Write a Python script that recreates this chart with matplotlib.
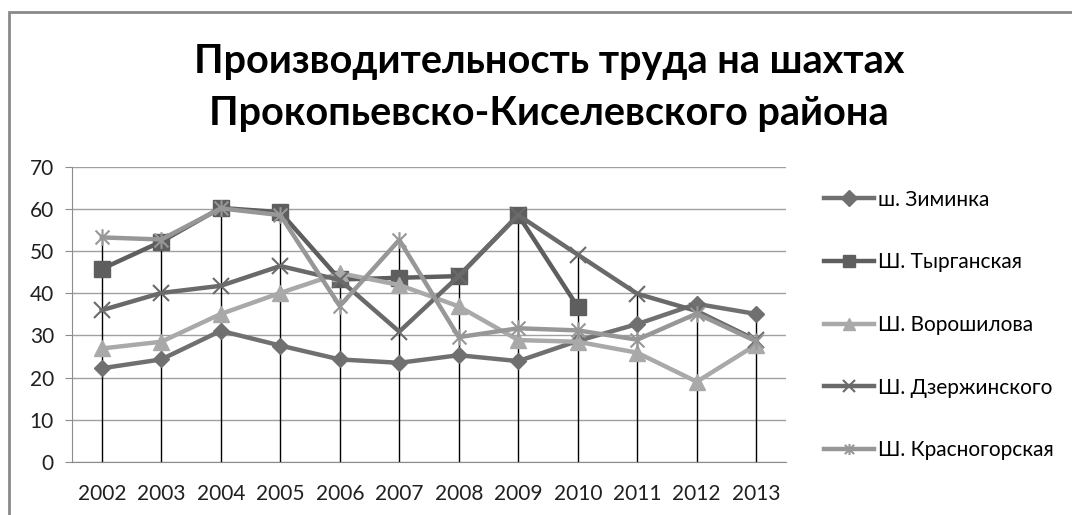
import numpy as np
import matplotlib.pyplot as plt
from matplotlib.path import Path
from matplotlib.patches import Rectangle

# Data

years = ['2002', '2003', '2004', '2005', '2006', '2007',
         '2008', '2009', '2010', '2011', '2012', '2013']

ziminka = [22.2, 24.3, 31.1, 27.6, 24.3, 23.5, 25.3, 23.9, 28.7, 32.7, 37.5, 35.1]
tyrganskaya = [45.8, 52.3, 60.3, 59.3, 43.3, 43.7, 44.1, 58.6, 36.8,
               np.nan, np.nan, np.nan]
voroshilova = [26.9, 28.5, 35.1, 40.1, 44.8, 42.0, 36.9, 28.9, 28.5, 25.9, 19.0, 27.8]
dzerzhinskogo = [36.0, 40.1, 41.8, 46.5, 43.2, 30.9, 44.1, 58.6, 49.2, 39.9, 35.8, 28.9]
krasnogorskaya = [53.3, 52.8, 60.2, 58.6, 37.0, 52.7, 29.6, 31.7, 31.2, 29.0, 35.2, 28.6]

names = ['ш. Зиминка', 'Ш. Тырганская', 'Ш. Ворошилова',
         'Ш. Дзержинского', 'Ш. Красногорская']

title = 'Производительность труда на шахтах\nПрокопьевско-Киселевского района'

# Excel-style star marker: X with a vertical stroke
star = Path([(-1, -1), (1, 1), (-1, 1), (1, -1), (0, -1.2), (0, 1.2)],
            [Path.MOVETO, Path.LINETO] * 3)

plt.rcParams['font.family'] = ['Lato', 'DejaVu Sans']

fig = plt.figure(figsize=(10.72, 5.15), dpi=100)
ax = fig.add_axes([0.0672, 0.1035, 0.666, 0.572])

x = np.arange(len(years))
series = [ziminka, tyrganskaya, voroshilova, dzerzhinskogo, krasnogorskaya]

# drop lines from the highest point of each year down to the axis
top = np.nanmax(np.array(series, dtype=float), axis=0)
ax.vlines(x, 0, top, color='black', lw=1, zorder=1)

ax.plot(x, ziminka, color='#707070', lw=3.2, marker='D', ms=8,
        label=names[0], zorder=3)
ax.plot(x, tyrganskaya, color='#5e5e5e', lw=3.2, marker='s', ms=12,
        label=names[1], zorder=3)
ax.plot(x, voroshilova, color='#a9a9a9', lw=3.2, marker='^', ms=12,
        label=names[2], zorder=3)
ax.plot(x, dzerzhinskogo, color='#6a6a6a', lw=3.2, marker='x', ms=12, mew=1.5,
        label=names[3], zorder=3)
ax.plot(x, krasnogorskaya, color='#979797', lw=3.2, marker=star, ms=12, mew=1.5,
        label=names[4], zorder=3)

ax.set_xlim(-0.5, len(years) - 0.5)
ax.set_ylim(0, 70)
ax.set_yticks(range(0, 71, 10))
ax.set_xticks(x)
ax.set_xticklabels(years)
ax.grid(axis='y', color='#a0a0a0', lw=1)
ax.set_axisbelow(True)
for s in ['top', 'right']:
    ax.spines[s].set_visible(False)
ax.spines['left'].set_color('#8c8c8c')
ax.spines['bottom'].set_color('#8c8c8c')
ax.tick_params(axis='y', length=5, color='#8c8c8c', pad=8, labelsize=15,
               labelcolor='#202020')
ax.tick_params(axis='x', length=0, pad=16, labelsize=15, labelcolor='#202020')

leg = ax.legend(loc='upper left', bbox_to_anchor=(1.0416, 0.952), frameon=False,
                fontsize=15, handlelength=2.4, handletextpad=0.2,
                labelspacing=2.05, borderaxespad=0)
for h in leg.legend_handles:
    h.set_markersize(8)

fig.text(0.512, 0.831, title, ha='center', va='center', fontsize=28.5,
         fontweight='bold', linespacing=1.5)

# chart frame (only left and top edges visible in the crop)
fig.patches.append(Rectangle((9 / 1072, -0.1), 1.2, 1 - 12 / 515 + 0.1,
                             transform=fig.transFigure, fill=False,
                             edgecolor='#8a8a8a', lw=2))

fig.savefig('out.png', dpi=100)
